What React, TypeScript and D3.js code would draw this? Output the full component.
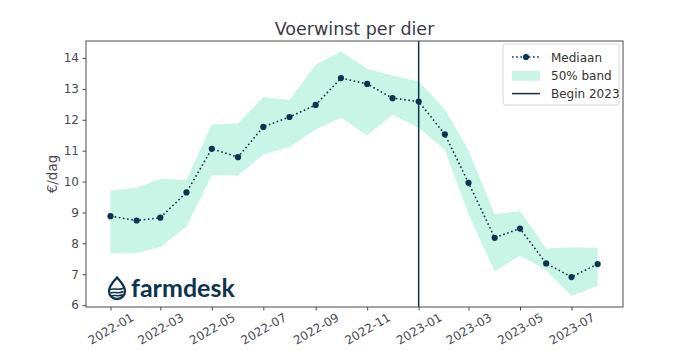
import React, { useEffect, useRef } from "react";
import * as d3 from "d3";

// monthly data, jan 2022 - aug 2023
const months = [
  "2022-01", "2022-02", "2022-03", "2022-04", "2022-05", "2022-06", "2022-07",
  "2022-08", "2022-09", "2022-10", "2022-11", "2022-12", "2023-01", "2023-02",
  "2023-03", "2023-04", "2023-05", "2023-06", "2023-07", "2023-08",
];
const mediaan = [
  8.88, 8.74, 8.83, 9.65, 11.06, 10.79, 11.77, 12.09, 12.48, 13.35,
  13.16, 12.7, 12.59, 11.53, 9.96, 8.18, 8.48, 7.35, 6.91, 7.33,
];
const bandLow = [
  7.67, 7.69, 7.88, 8.54, 10.21, 10.19, 10.88, 11.12, 11.68, 12.07,
  11.49, 12.16, 11.74, 11.03, 8.94, 7.09, 7.61, 7.12, 6.3, 6.63,
];
const bandHigh = [
  9.7, 9.81, 10.08, 10.06, 11.85, 11.88, 12.73, 12.64, 13.78, 14.22,
  13.65, 13.43, 13.24, 12.35, 11.01, 8.94, 9.05, 7.83, 7.87, 7.85,
];
const yTicks = [6, 7, 8, 9, 10, 11, 12, 13, 14];
const xTicks = ["2022-01", "2022-03", "2022-05", "2022-07", "2022-09", "2022-11", "2023-01", "2023-03", "2023-05", "2023-07"];
const beginDate = "2023-01";
const legendLabels = ["Mediaan", "50% band", "Begin 2023"];

const W = 691;
const H = 351;
const NAVY = "#0c3450";
const MINT = "#c9f5e7";
const GREY = "#4a4a55";

function Chart() {
  const ref = useRef<SVGSVGElement>(null);

  useEffect(() => {
    const svg = d3.select(ref.current);
    svg.selectAll("*").remove();

    const margin = { top: 41, right: 68, bottom: 44, left: 86 };
    const parse = d3.timeParse("%Y-%m");
    const dates = months.map((m) => parse(m) as Date);

    const x = d3.scaleTime()
      .domain([new Date(2021, 11, 3), new Date(2023, 8, 0)])
      .range([margin.left, W - margin.right]);
    const y = d3.scaleLinear()
      .domain([5.94, 14.55])
      .range([H - margin.bottom, margin.top]);

    const font = "DejaVu Sans, sans-serif";

    // band
    const area = d3.area<number>()
      .x((_, i) => x(dates[i]))
      .y0((_, i) => y(bandLow[i]))
      .y1((d) => y(d));
    svg.append("path")
      .datum(bandHigh)
      .attr("d", area)
      .attr("fill", MINT);

    // median line
    const line = d3.line<number>()
      .x((_, i) => x(dates[i]))
      .y((d) => y(d));
    svg.append("path")
      .datum(mediaan)
      .attr("d", line)
      .attr("fill", "none")
      .attr("stroke", NAVY)
      .attr("stroke-width", 1.6)
      .attr("stroke-dasharray", "1.6,2.6");
    svg.append("g")
      .selectAll("circle")
      .data(mediaan)
      .join("circle")
      .attr("cx", (_, i) => x(dates[i]))
      .attr("cy", (d) => y(d))
      .attr("r", 3.1)
      .attr("fill", NAVY);

    // begin 2023
    const bx = x(parse(beginDate) as Date);
    svg.append("line")
      .attr("x1", bx).attr("x2", bx)
      .attr("y1", margin.top).attr("y2", H - margin.bottom)
      .attr("stroke", NAVY)
      .attr("stroke-width", 1.5);

    // frame
    svg.append("rect")
      .attr("x", margin.left)
      .attr("y", margin.top)
      .attr("width", W - margin.left - margin.right)
      .attr("height", H - margin.top - margin.bottom)
      .attr("fill", "none")
      .attr("stroke", GREY)
      .attr("stroke-width", 1);

    // axes
    const yAxis = svg.append("g")
      .attr("transform", `translate(${margin.left},0)`)
      .call(d3.axisLeft(y).tickValues(yTicks).tickSize(3.5).tickPadding(3.5));
    yAxis.select(".domain").remove();
    yAxis.selectAll("line").attr("stroke", GREY);
    yAxis.selectAll("text")
      .attr("fill", GREY)
      .style("font-family", font)
      .style("font-size", "12px");

    const xAxis = svg.append("g")
      .attr("transform", `translate(0,${H - margin.bottom})`)
      .call(
        d3.axisBottom(x)
          .tickValues(xTicks.map((t) => parse(t) as Date))
          .tickFormat(d3.timeFormat("%Y-%m") as any)
          .tickSize(3.5)
      );
    xAxis.select(".domain").remove();
    xAxis.selectAll("line").attr("stroke", GREY);
    // rotated labels, centred under the tick like matplotlib
    xAxis.selectAll("text")
      .attr("fill", GREY)
      .style("font-family", font)
      .style("font-size", "12px")
      .attr("text-anchor", "middle")
      .attr("dy", null)
      .attr("y", 0)
      .attr("dominant-baseline", "central")
      .attr("transform", "translate(0,22) rotate(-30)");

    // y label
    svg.append("text")
      .attr("transform", `translate(57,${(margin.top + H - margin.bottom) / 2}) rotate(-90)`)
      .attr("text-anchor", "middle")
      .attr("fill", GREY)
      .style("font-family", font)
      .style("font-size", "13.5px")
      .text("€/dag");

    // title
    svg.append("text")
      .attr("x", (margin.left + W - margin.right) / 2)
      .attr("y", 35)
      .attr("text-anchor", "middle")
      .attr("fill", "#3a3a48")
      .style("font-family", font)
      .style("font-size", "17.5px")
      .text("Voerwinst per dier");

    // legend
    const lg = svg.append("g").attr("transform", "translate(503,44)");
    lg.append("rect")
      .attr("width", 116).attr("height", 61).attr("rx", 2.5)
      .attr("fill", "white").attr("stroke", "#d6d6d6");
    const rowY = (i: number) => 13 + i * 18.3;
    lg.append("line")
      .attr("x1", 9).attr("x2", 37).attr("y1", rowY(0)).attr("y2", rowY(0))
      .attr("stroke", NAVY).attr("stroke-width", 1.6).attr("stroke-dasharray", "1.6,2.6");
    lg.append("circle").attr("cx", 23).attr("cy", rowY(0)).attr("r", 3.1).attr("fill", NAVY);
    lg.append("rect")
      .attr("x", 9).attr("y", rowY(1) - 4.5).attr("width", 28).attr("height", 10)
      .attr("fill", MINT);
    lg.append("line")
      .attr("x1", 9).attr("x2", 37).attr("y1", rowY(2)).attr("y2", rowY(2))
      .attr("stroke", NAVY).attr("stroke-width", 1.5);
    lg.selectAll("text.lbl")
      .data(legendLabels)
      .join("text")
      .attr("class", "lbl")
      .attr("x", 48)
      .attr("y", (_, i) => rowY(i) + 4.5)
      .attr("fill", "#333")
      .style("font-family", font)
      .style("font-size", "12px")
      .text((d) => d);

    // farmdesk logo
    const logo = svg.append("g").attr("transform", "translate(107,276)");
    logo.append("path")
      .attr("d", "M10,1.5 C13,5 18,9.5 18,15 C18,19.5 14.5,23 10,23 C5.5,23 2,19.5 2,15 C2,9.5 7,5 10,1.5 Z")
      .attr("fill", "none")
      .attr("stroke", NAVY)
      .attr("stroke-width", 2.3);
    [13.5, 17, 20].forEach((yy, i) => {
      logo.append("path")
        .attr("d", `M${3 + i * 0.6},${yy} C7,${yy - 2} 11,${yy + 1.5} ${17 - i * 0.6},${yy - 1.5}`)
        .attr("fill", "none")
        .attr("stroke", NAVY)
        .attr("stroke-width", 1.5);
    });
    logo.append("text")
      .attr("x", 24)
      .attr("y", 21)
      .attr("fill", NAVY)
      .style("font-family", "Lato, sans-serif")
      .style("font-weight", "700")
      .style("font-size", "25px")
      .text("farmdesk");
  }, []);

  return (
    <svg
      ref={ref}
      width={W}
      height={H}
      style={{ position: "absolute", left: 0, top: 0, background: "white" }}
    />
  );
}

export default function App() {
  return <Chart />;
}
